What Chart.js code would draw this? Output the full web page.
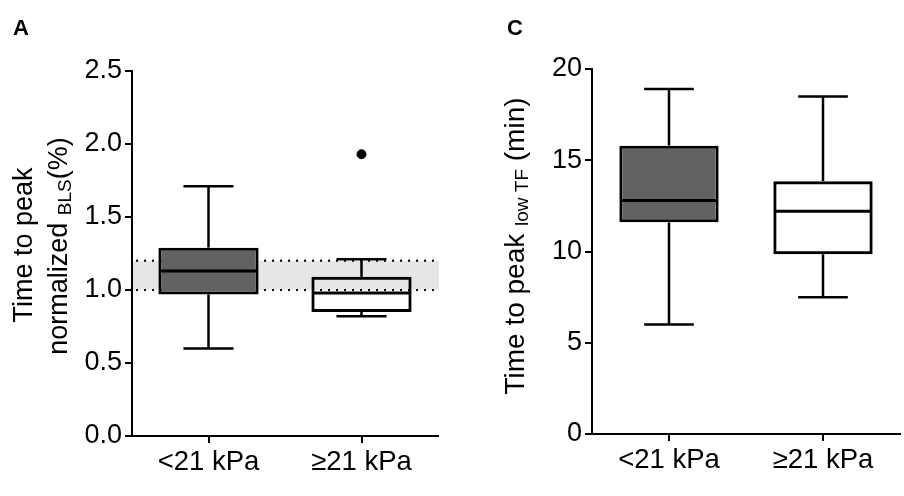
<!DOCTYPE html>
<html>
<head>
<meta charset="utf-8">
<script src="https://cdn.jsdelivr.net/npm/chart.js@4.4.1/dist/chart.umd.min.js"></script>
<style>
  body { margin: 0; background: #fff; }
  .wrap { display: flex; width: 904px; height: 496px; }
  canvas { display: block; }
</style>
</head>
<body>
<div class="wrap">
  <canvas id="chartA" width="452" height="496"></canvas>
  <canvas id="chartC" width="452" height="496"></canvas>
</div>
<script>
const groups = ['<21 kPa', '\u226521 kPa'];

// panel A: time to peak normalized to BLS
const blsMin = [0.60, 0.82];
const blsQ1 = [0.97, 0.85];
const blsMedian = [1.13, 0.98];
const blsQ3 = [1.29, 1.09];
const blsMax = [1.71, 1.21];
const blsOutliers = [null, 1.93];
const blsBand = [1.0, 1.2];

// panel C: time to peak low TF (min)
const tfMin = [6.0, 7.5];
const tfQ1 = [11.6, 9.85];
const tfMedian = [12.8, 12.2];
const tfQ3 = [15.8, 13.85];
const tfMax = [18.9, 18.5];

const boxFill = ['#626262', 'rgba(255,255,255,0)'];
const FONT = "'Liberation Sans', Arial, sans-serif";

// draw text pieces along a rotated baseline, centred on (x, y)
function drawRotated(ctx, x, y, parts) {
    ctx.save();
    ctx.translate(x, y);
    ctx.rotate(-Math.PI / 2);
    let total = 0;
    parts.forEach(p => {
        ctx.font = p.size + 'px ' + FONT;
        p.w = ctx.measureText(p.text).width;
        total += p.w;
    });
    let cx = -total / 2;
    ctx.fillStyle = '#000';
    ctx.textBaseline = 'alphabetic';
    ctx.textAlign = 'left';
    parts.forEach(p => {
        ctx.font = p.size + 'px ' + FONT;
        ctx.fillText(p.text, cx, p.dy || 0);
        cx += p.w;
    });
    ctx.restore();
}

const boxExtras = {
    id: 'boxExtras',
    beforeDatasetsDraw(chart, args, opts) {
        if (!opts.band) return;
        const { ctx, chartArea: a, scales: { y } } = chart;
        const y0 = y.getPixelForValue(opts.band[0]);
        const y1 = y.getPixelForValue(opts.band[1]);
        ctx.save();
        ctx.fillStyle = '#e6e6e6';
        ctx.fillRect(a.left + 1, y1, a.right - a.left, y0 - y1);
        ctx.strokeStyle = '#000';
        ctx.lineWidth = 2;
        ctx.setLineDash([2, 6]);
        [y0, y1].forEach(py => {
            ctx.beginPath();
            ctx.moveTo(a.left + 4, py);
            ctx.lineTo(a.right, py);
            ctx.stroke();
        });
        ctx.restore();
    },
    afterDatasetsDraw(chart, args, opts) {
        const { ctx, scales: { y } } = chart;
        const bars = chart.getDatasetMeta(0).data;
        ctx.save();
        ctx.strokeStyle = '#000';
        const line = (x1, y1, x2, y2) => {
            ctx.beginPath(); ctx.moveTo(x1, y1); ctx.lineTo(x2, y2); ctx.stroke();
        };
        bars.forEach((bar, i) => {
            const x = bar.x, half = bar.width / 2;
            const pMin = y.getPixelForValue(opts.min[i]);
            const pMax = y.getPixelForValue(opts.max[i]);
            const pQ1 = y.getPixelForValue(opts.q1[i]);
            const pQ3 = y.getPixelForValue(opts.q3[i]);
            const pMed = y.getPixelForValue(opts.median[i]);
            ctx.lineWidth = 2.5;
            line(x, pQ3, x, pMax);
            line(x, pQ1, x, pMin);
            line(x - half / 2, pMax, x + half / 2, pMax);
            line(x - half / 2, pMin, x + half / 2, pMin);
            ctx.lineWidth = 3;
            line(x - half + 2, pMed, x + half - 2, pMed);
        });
        ctx.restore();
    },
    afterDraw(chart, args, opts) {
        const ctx = chart.ctx;
        ctx.save();
        ctx.fillStyle = '#000';
        ctx.font = 'bold 22px ' + FONT;
        ctx.textAlign = 'left';
        ctx.textBaseline = 'alphabetic';
        ctx.fillText(opts.panel.text, opts.panel.x, opts.panel.y);
        ctx.restore();
        opts.titles.forEach(t => drawRotated(ctx, t.x, t.y, t.parts));
    }
};

function makeBox(id, s) {
    const datasets = [{
        type: 'bar',
        data: groups.map((g, i) => [s.q1[i], s.q3[i]]),
        backgroundColor: boxFill,
        borderColor: '#000',
        borderWidth: 3,
        borderSkipped: false,
        categoryPercentage: 1,
        barPercentage: s.barPct
    }];
    if (s.outliers) {
        datasets.push({
            type: 'line',
            data: s.outliers,
            showLine: false,
            pointRadius: 4.5,
            pointBackgroundColor: '#000',
            pointBorderColor: '#000'
        });
    }
    return new Chart(document.getElementById(id), {
        type: 'bar',
        data: { labels: groups, datasets: datasets },
        options: {
            responsive: false,
            animation: false,
            layout: { padding: { left: 0, top: s.top, right: s.right, bottom: 0 } },
            plugins: {
                legend: { display: false },
                tooltip: { enabled: false },
                boxExtras: {
                    min: s.min, q1: s.q1, median: s.median, q3: s.q3, max: s.max,
                    band: s.band, panel: s.panel, titles: s.titles
                }
            },
            scales: {
                x: {
                    afterFit(scale) { scale.height = s.xHeight; },
                    grid: { display: true, drawOnChartArea: false, offset: false, tickLength: 7, lineWidth: 2, color: '#000' },
                    border: { display: true, color: '#000', width: 2 },
                    ticks: { color: '#000', font: { family: FONT, size: 27.5 }, padding: 3, maxRotation: 0 }
                },
                y: {
                    min: 0,
                    max: s.yMax,
                    afterFit(scale) { scale.width = s.yWidth; },
                    grid: { display: true, drawOnChartArea: false, tickLength: 7, lineWidth: 2, color: '#000' },
                    border: { display: true, color: '#000', width: 2 },
                    ticks: {
                        stepSize: s.step,
                        color: '#000',
                        padding: 3,
                        font: { family: FONT, size: 27 },
                        callback: s.fmt
                    }
                }
            }
        },
        plugins: [boxExtras]
    });
}

makeBox('chartA', {
    min: blsMin, q1: blsQ1, median: blsMedian, q3: blsQ3, max: blsMax,
    outliers: blsOutliers, band: blsBand,
    yMax: 2.5, step: 0.5, fmt: v => v.toFixed(1),
    top: 71, right: 14, xHeight: 60, yWidth: 132, barPct: 0.655,
    panel: { text: 'A', x: 13, y: 35 },
    titles: [
        { x: 32, y: 245, parts: [{ text: 'Time to peak', size: 27 }] },
        { x: 67, y: 246, parts: [
            { text: 'normalized ', size: 27 },
            { text: 'BLS', size: 19, dy: 4 },
            { text: '(%)', size: 27 }
        ] }
    ]
});

makeBox('chartC', {
    min: tfMin, q1: tfQ1, median: tfMedian, q3: tfQ3, max: tfMax,
    yMax: 20, step: 5, fmt: v => v,
    top: 69, right: 4, xHeight: 62, yWidth: 140, barPct: 0.645,
    panel: { text: 'C', x: 55, y: 35 },
    titles: [
        { x: 72, y: 246, parts: [
            { text: 'Time to peak ', size: 28 },
            { text: 'low TF', size: 19, dy: 4 },
            { text: ' (min)', size: 28 }
        ] }
    ]
});
</script>
</body>
</html>
